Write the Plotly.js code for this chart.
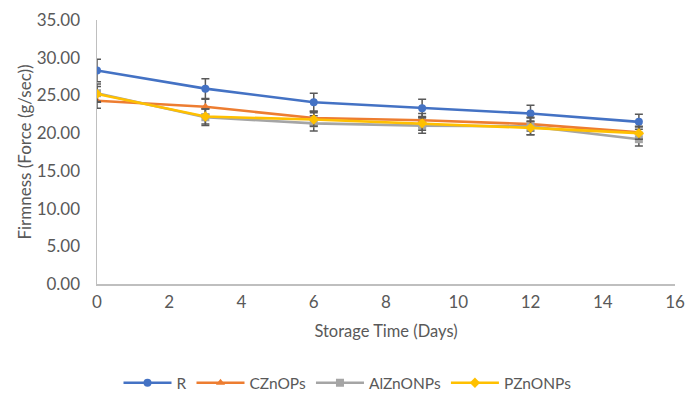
<!DOCTYPE html>
<html>
<head>
<meta charset="utf-8">
<script src="https://cdn.plot.ly/plotly-3.0.1.min.js"></script>
<style>html,body{margin:0;padding:0;background:#fff;}#chart{width:695px;height:397px;}</style>
</head>
<body>
<div id="chart"></div>
<script>
const days = [0, 3, 6, 9, 12, 15];
const seriesNames = ["R", "CZnOPs", "AlZnONPs", "PZnONPs"];
const R = [28.3, 25.9, 24.1, 23.3, 22.6, 21.5];
const CZnOPs = [24.3, 23.5, 22.0, 21.7, 21.2, 20.1];
const AlZnONPs = [25.3, 22.1, 21.3, 21.0, 20.9, 19.2];
const PZnONPs = [25.2, 22.2, 21.8, 21.3, 20.7, 20.0];
const R_err = [1.5, 1.3, 1.2, 1.2, 1.1, 1.0];
const CZnOPs_err = [1.0, 1.0, 0.9, 0.9, 0.9, 0.8];
const AlZnONPs_err = [1.2, 1.1, 1.0, 1.0, 1.1, 0.9];
const PZnONPs_err = [1.0, 1.0, 0.9, 0.9, 0.9, 0.8];
const yTicks = [0, 5, 10, 15, 20, 25, 30, 35];
const xTicks = [0, 2, 4, 6, 8, 10, 12, 14, 16];

const colors = ["#4472C4", "#ED7D31", "#A5A5A5", "#FFC000"];
const symbols = ["circle", "triangle-up", "square", "diamond"];
const vals = [R, CZnOPs, AlZnONPs, PZnONPs];
const errs = [R_err, CZnOPs_err, AlZnONPs_err, PZnONPs_err];

const traces = seriesNames.map((n, i) => ({
  x: days, y: vals[i], name: n, type: "scatter", mode: "lines+markers",
  line: {color: colors[i], width: 2.6},
  marker: {color: colors[i], symbol: symbols[i], size: 8},
  error_y: {type: "data", array: errs[i], visible: true, color: "#595959", thickness: 1.5, width: 4}
}));

const layout = {
  width: 695, height: 397,
  margin: {l: 97, r: 20, t: 20, b: 113, autoexpand: false},
  paper_bgcolor: "#fff", plot_bgcolor: "#fff",
  font: {family: "Lato, 'Open Sans', sans-serif", color: "#595959", size: 16},
  showlegend: true,
  legend: {orientation: "h", xref: "container", x: 0.5, xanchor: "center", yref: "container", y: 0.035, yanchor: "middle", itemwidth: 48, font: {size: 15.5, color: "#595959"}, traceorder: "normal"},
  xaxis: {
    range: [0, 16], tickvals: xTicks, ticktext: xTicks.map(String), automargin: false,
    showgrid: false, zeroline: false, showline: true, linecolor: "#BFBFBF", linewidth: 1.5,
    ticks: "", ticklabelstandoff: 2, tickfont: {size: 17, color: "#595959"},
    title: {text: "Storage Time (Days)", font: {size: 16.5, color: "#595959"}, standoff: 14}
  },
  yaxis: {
    range: [0, 35], tickvals: yTicks, ticktext: yTicks.map(v => v.toFixed(2)), automargin: false,
    showgrid: false, zeroline: false, showline: true, linecolor: "#BFBFBF", linewidth: 1.5,
    ticks: "", ticklabelstandoff: 12, tickfont: {size: 17, color: "#595959"},
    title: {text: "Firmness (Force (g/sec))", font: {size: 17, color: "#595959"}, standoff: 0}
  }
};
Plotly.newPlot("chart", traces, layout, {displayModeBar: false, staticPlot: true});
</script>
</body>
</html>
